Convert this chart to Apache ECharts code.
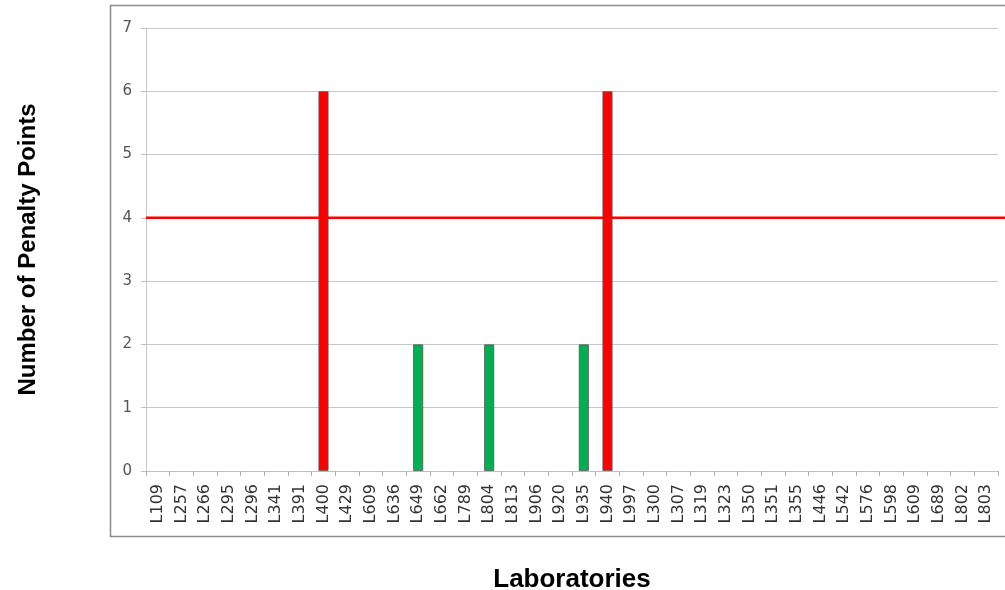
<!DOCTYPE html>
<html>
<head>
<meta charset="utf-8">
<script src="https://cdn.jsdelivr.net/npm/echarts@6/dist/echarts.min.js"></script>
<style>
  html, body { margin: 0; padding: 0; background: #ffffff; }
  #chart { width: 1005px; height: 590px; }
</style>
</head>
<body>
<div id="chart"></div>
<script>
// Laboratory codes along the x axis
const labs = ['L109','L257','L266','L295','L296','L341','L391','L400','L429','L609','L636','L649','L662','L789','L804','L813','L906','L920','L935','L940','L997','L300','L307','L319','L323','L350','L351','L355','L446','L542','L576','L598','L609','L689','L802','L803'];
// Penalty points per laboratory
const penalty = [0,0,0,0,0,0,0,6,0,0,0,2,0,0,2,0,0,0,2,6,0,0,0,0,0,0,0,0,0,0,0,0,0,0,0,0];
// Action limit (drawn across the full width of the plot)
const limit = 4;
const limitSpan = [[0, limit], [1, limit]];
const yTicks = [0, 1, 2, 3, 4, 5, 6, 7];

const yMin = yTicks[0];
const yMax = yTicks[yTicks.length - 1];
const sans = 'Liberation Sans, Arial, sans-serif';
const tickFont = 'DejaVu Sans, Verdana, sans-serif';

const chart = echarts.init(document.getElementById('chart'));
chart.setOption({
  animation: false,
  backgroundColor: '#ffffff',
  graphic: [{
    type: 'rect',
    shape: { x: 110.5, y: 5.5, width: 900, height: 531 },
    style: { fill: 'none', stroke: '#8c8c8c', lineWidth: 1.5 },
    silent: true,
    z: -1
  }],
  grid: [
    { left: 146, right: 7, top: 28, bottom: 119, containLabel: false, outerBoundsMode: 'none' },
    { left: 146, right: 0, top: 28, bottom: 119, containLabel: false, outerBoundsMode: 'none' }
  ],
  xAxis: [{
    type: 'category',
    gridIndex: 0,
    data: labs,
    axisLine: { show: true, lineStyle: { color: '#c0c0c0' } },
    axisTick: { show: true, alignWithLabel: false, length: 5, lineStyle: { color: '#b0b0b0' } },
    axisLabel: { rotate: 90, interval: 0, fontFamily: tickFont, fontSize: 16, color: '#333333', margin: 13 },
    name: 'Laboratories',
    nameLocation: 'middle',
    nameGap: 96,
    nameTextStyle: { fontFamily: sans, fontSize: 26, fontWeight: 'bold', color: '#000000' }
  }, {
    type: 'value',
    gridIndex: 1,
    min: 0,
    max: 1,
    show: false
  }],
  yAxis: [{
    type: 'value',
    gridIndex: 0,
    min: yMin,
    max: yMax,
    interval: 1,
    axisLine: { show: true, lineStyle: { color: '#c8c8c8' } },
    axisTick: { show: true, length: 5, lineStyle: { color: '#c0c0c0' } },
    splitLine: { show: true, lineStyle: { color: '#c8c8c8', width: 1 } },
    axisLabel: { fontFamily: tickFont, fontSize: 15, color: '#555555', margin: 14 },
    name: 'Number of Penalty Points',
    nameLocation: 'middle',
    nameRotate: 90,
    nameGap: 106,
    nameTextStyle: { fontFamily: sans, fontSize: 24, fontWeight: 'bold', color: '#000000' }
  }, {
    type: 'value',
    gridIndex: 1,
    min: yMin,
    max: yMax,
    show: false
  }],
  series: [{
    type: 'bar',
    xAxisIndex: 0,
    yAxisIndex: 0,
    data: penalty.map(v => ({
      value: v,
      itemStyle: {
        color: v > limit ? '#ff0000' : '#00b050',
        borderWidth: v > 0 ? 0.8 : 0
      }
    })),
    barWidth: 10,
    itemStyle: { borderColor: '#555555' },
    z: 3
  }, {
    type: 'line',
    xAxisIndex: 1,
    yAxisIndex: 1,
    data: limitSpan,
    symbol: 'none',
    silent: true,
    lineStyle: { color: '#ff0000', width: 2.5 },
    z: 4
  }]
});
</script>
</body>
</html>
